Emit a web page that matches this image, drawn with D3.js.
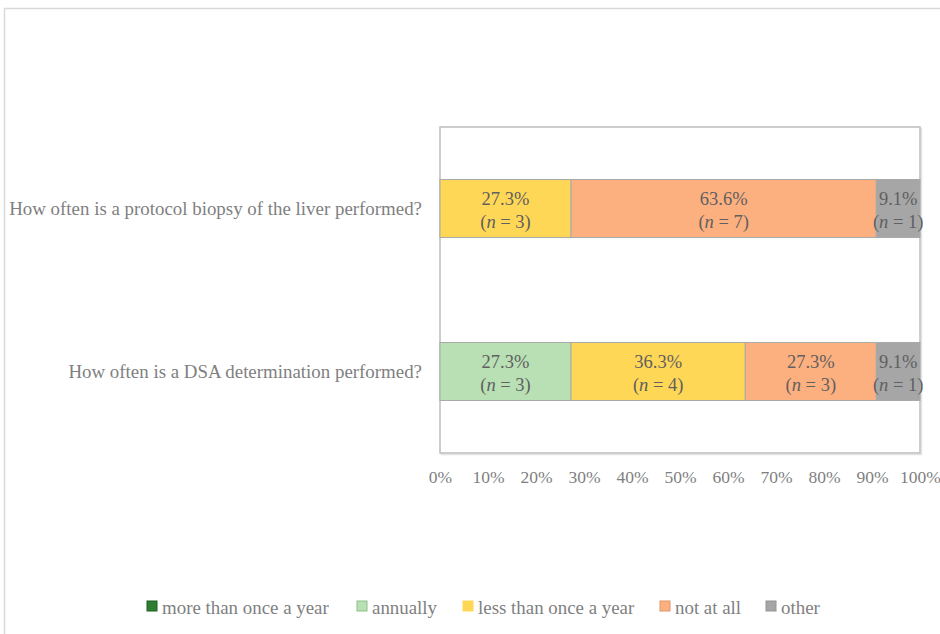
<!DOCTYPE html>
<html>
<head>
<meta charset="utf-8">
<script src="https://cdn.jsdelivr.net/npm/d3@7"></script>
<style>
  html, body { margin: 0; padding: 0; background: #fff; }
  svg { display: block; }
  text { font-family: "Liberation Serif", "DejaVu Serif", serif; }
</style>
</head>
<body>
<svg id="chart" width="940" height="634"></svg>
<script>
// ---- data ----
const categories = [
  "How often is a protocol biopsy of the liver performed?",
  "How often is a DSA determination performed?"
];
const seriesNames = ["more than once a year", "annually", "less than once a year", "not at all", "other"];
const seriesColors = ["#2E7D32", "#B9E0B4", "#FFD757", "#FDB07F", "#A6A6A6"];
const legendBorders = ["#1f5e22", "#8fbf89", "#FFD757", "#e0956a", "#949494"];
// percentages per category, in series order
const biopsyPct = [0, 0, 27.3, 63.6, 9.1];
const dsaPct    = [0, 27.3, 36.3, 27.3, 9.1];
// respondent counts per category, in series order
const biopsyN = [0, 0, 3, 7, 1];
const dsaN    = [0, 3, 4, 3, 1];
const tickValues = [0, 10, 20, 30, 40, 50, 60, 70, 80, 90, 100];

// ---- build table ----
const pctRows = [biopsyPct, dsaPct];
const nRows = [biopsyN, dsaN];
const table = categories.map((c, i) => {
  const row = { category: c, idx: i };
  seriesNames.forEach((s, j) => { row[s] = pctRows[i][j]; });
  return row;
});

const svg = d3.select("#chart");
const W = 940, H = 634;
const margin = { left: 440, right: 20, top: 127, bottom: 181 };
const x = d3.scaleLinear().domain([0, 100]).range([margin.left, W - margin.right]);
const y = d3.scaleBand().domain(categories).range([margin.top, H - margin.bottom]).paddingInner(0.644).paddingOuter(0.322);

// outer frame
svg.append("rect").attr("x", 4.5).attr("y", 8.5).attr("width", W + 10).attr("height", H + 10)
  .attr("fill", "none").attr("stroke", "#d9d9d9").attr("stroke-width", 1.5);

// plot area box (with subtle shadow)
svg.append("rect").attr("x", margin.left + 1.5).attr("y", margin.top + 1.5)
  .attr("width", x(100) - x(0)).attr("height", (H - margin.bottom) - margin.top)
  .attr("fill", "none").attr("stroke", "#e4e4e4").attr("stroke-width", 1.5);
svg.append("rect").attr("x", margin.left).attr("y", margin.top)
  .attr("width", x(100) - x(0)).attr("height", (H - margin.bottom) - margin.top)
  .attr("fill", "#fff").attr("stroke", "#bdbdbd").attr("stroke-width", 1.5);

// stacked bars
const stack = d3.stack().keys(seriesNames);
const layers = stack(table);
const g = svg.append("g");
layers.forEach((layer, j) => {
  layer.forEach((d, i) => {
    const w = x(d[1]) - x(d[0]);
    if (w <= 0) return;
    const cat = table[i].category;
    g.append("rect")
      .attr("x", x(d[0])).attr("y", y(cat))
      .attr("width", w).attr("height", y.bandwidth())
      .attr("fill", seriesColors[j])
      .attr("stroke", "#a9a9a9").attr("stroke-width", 1);
    const cx = (x(d[0]) + x(d[1])) / 2;
    const cy = y(cat) + y.bandwidth() / 2;
    const pct = pctRows[i][j];
    g.append("text").attr("x", cx).attr("y", cy - 10)
      .attr("text-anchor", "middle").attr("dominant-baseline", "central")
      .attr("font-size", 18.5).attr("fill", "#606060")
      .text(pct.toFixed(1) + "%");
    const t2 = g.append("text").attr("x", cx).attr("y", cy + 13)
      .attr("text-anchor", "middle").attr("dominant-baseline", "central")
      .attr("font-size", 18.5).attr("fill", "#606060");
    t2.append("tspan").text("(");
    t2.append("tspan").attr("font-style", "italic").text("n");
    t2.append("tspan").text(" = " + nRows[i][j] + ")");
  });
});

// category labels
const yAxis = d3.axisLeft(y).tickSize(0).tickPadding(18);
const ya = svg.append("g").attr("transform", `translate(${margin.left},0)`).call(yAxis);
ya.select(".domain").remove();
ya.selectAll("text").attr("font-size", 18.9).attr("fill", "#7f7f7f")
  .style("font-family", '"Liberation Serif", serif');

// x axis labels
const xAxis = d3.axisBottom(x).tickValues(tickValues).tickSize(0).tickPadding(18)
  .tickFormat(d => d + "%");
const xa = svg.append("g").attr("transform", `translate(0,${H - margin.bottom})`).call(xAxis);
xa.select(".domain").remove();
xa.selectAll("text").attr("font-size", 17.5).attr("fill", "#7f7f7f")
  .style("font-family", '"Liberation Serif", serif');

// legend
const legendX = [147, 357, 463, 660, 766];
const lg = svg.append("g");
seriesNames.forEach((s, j) => {
  lg.append("rect").attr("x", legendX[j]).attr("y", 601).attr("width", 10).attr("height", 10)
    .attr("fill", seriesColors[j]).attr("stroke", legendBorders[j]).attr("stroke-width", 1);
  lg.append("text").attr("x", legendX[j] + 15).attr("y", 607)
    .attr("dominant-baseline", "central").attr("font-size", 18.9).attr("fill", "#7f7f7f")
    .text(s);
});
</script>
</body>
</html>
